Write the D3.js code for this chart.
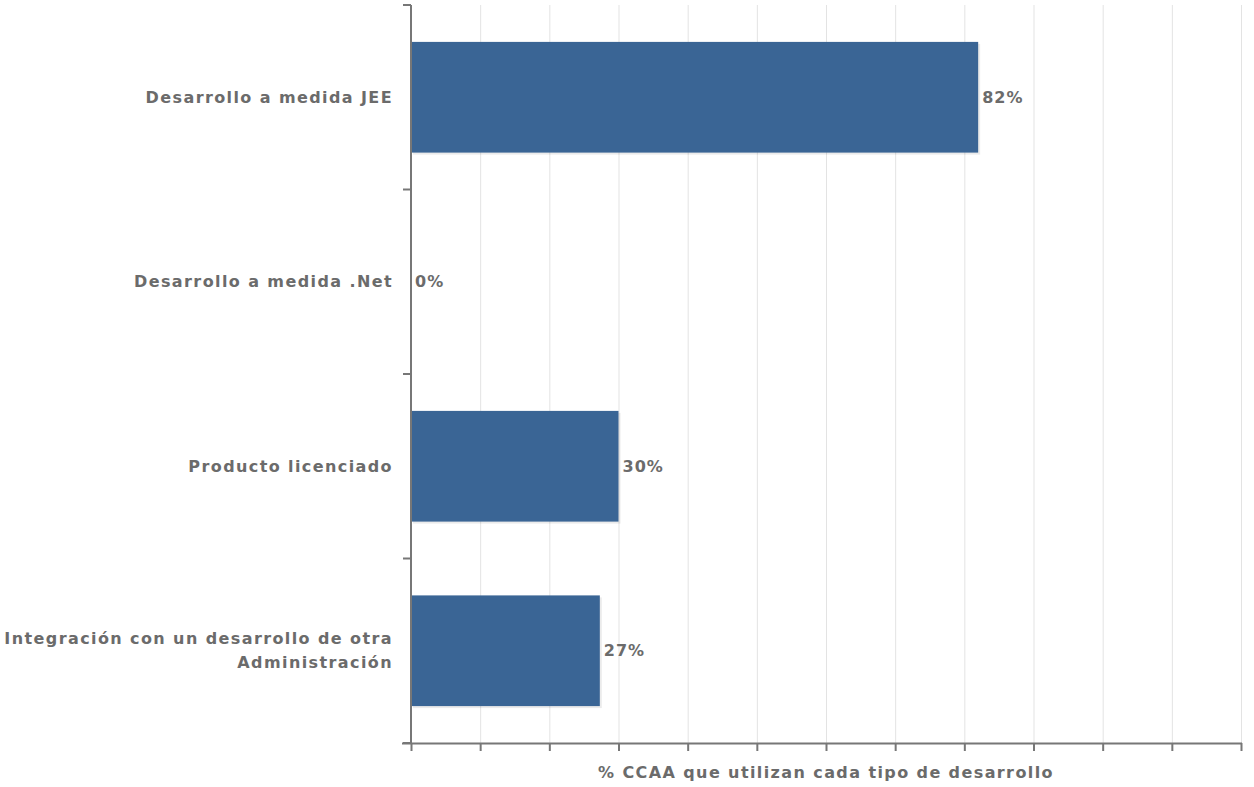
<!DOCTYPE html>
<html><head><meta charset="utf-8">
<script src="https://cdn.jsdelivr.net/npm/d3@7"></script>
<style>body{margin:0;background:#fff}svg{display:block}</style>
</head><body>
<script>
const categories = ["Desarrollo a medida JEE", "Desarrollo a medida .Net", "Producto licenciado", "Integración con un desarrollo de otra|Administración"];
const values = [82, 0, 30, 27.3];
const xTicks = d3.range(0, 121, 10);
const xTitle = "% CCAA que utilizan cada tipo de desarrollo";

const W = 1254, H = 787;
const m = {left: 411, right: 13, top: 5, bottom: 44};
const svg = d3.select("body").append("svg").attr("width", W).attr("height", H);
const font = "'DejaVu Sans', sans-serif";
const fs = 16, ls = 1.4, txt = "#6b6b6b";
const x = d3.scaleLinear().domain([0, 120]).range([m.left, W - m.right]);
const y = d3.scaleBand().domain(categories).range([m.top, H - m.bottom]).paddingInner(0.4).paddingOuter(0.2);
const y0 = m.top, y1 = H - m.bottom;

// grid
svg.append("g").selectAll("line").data(xTicks.slice(1)).join("line")
  .attr("x1", d => x(d) + 0.5).attr("x2", d => x(d) + 0.5)
  .attr("y1", y0).attr("y2", y1).attr("stroke", "#e3e3e3").attr("stroke-width", 1);

// bar shadows
svg.append("g").selectAll("rect").data(categories).join("rect")
  .attr("x", x(0) + 2).attr("y", d => y(d) + 2)
  .attr("width", (d, i) => Math.max(0, x(values[i]) - x(0)))
  .attr("height", y.bandwidth())
  .attr("fill", "#000").attr("opacity", (d, i) => values[i] > 0 ? 0.08 : 0);
// bars
svg.append("g").selectAll("rect").data(categories).join("rect")
  .attr("x", x(0)).attr("y", d => y(d))
  .attr("width", (d, i) => x(values[i]) - x(0))
  .attr("height", y.bandwidth())
  .attr("fill", "#3a6595");

// value labels
svg.append("g").selectAll("text").data(categories).join("text")
  .attr("x", (d, i) => x(values[i]) + 4)
  .attr("y", d => y(d) + y.bandwidth() / 2)
  .attr("dy", "0.35em")
  .attr("font-family", font).attr("font-weight", "bold").attr("font-size", fs)
  .attr("letter-spacing", 1).attr("fill", txt)
  .text((d, i) => d3.format(".0f")(values[i]) + "%");

// x axis
const xAxis = svg.append("g").attr("transform", `translate(0,${y1})`)
  .call(d3.axisBottom(x).tickValues(xTicks).tickSize(8).tickSizeOuter(0).tickFormat(""));
xAxis.select(".domain").attr("stroke", "#777").attr("stroke-width", 2).attr("d", `M${x(0) - 9},0.5H${x(120) + 1}`);
xAxis.selectAll(".tick line").attr("stroke", "#777").attr("stroke-width", 2);

// y axis
const yg = svg.append("g");
yg.append("line").attr("x1", m.left).attr("x2", m.left).attr("y1", y0).attr("y2", y1)
  .attr("stroke", "#777").attr("stroke-width", 2);
const bounds = d3.range(0, categories.length + 1).map(i => y0 + (y1 - y0) * i / categories.length);
yg.selectAll("line.t").data(bounds).join("line").attr("class", "t")
  .attr("x1", m.left - 8).attr("x2", m.left).attr("y1", d => d).attr("y2", d => d)
  .attr("stroke", "#777").attr("stroke-width", 2);

// category labels
const lab = svg.append("g").selectAll("text").data(categories).join("text")
  .attr("text-anchor", "end")
  .attr("font-family", font).attr("font-weight", "bold").attr("font-size", fs)
  .attr("letter-spacing", ls).attr("fill", txt);
lab.each(function(d) {
  const lines = d.split("|");
  const cy = y(d) + y.bandwidth() / 2;
  const lh = 24;
  lines.forEach((t, k) => {
    d3.select(this).append("tspan").attr("x", 393)
      .attr("y", cy + (k - (lines.length - 1) / 2) * lh).attr("dy", "0.35em").text(t);
  });
});

// x title
svg.append("text").attr("x", (x(0) + x(120)) / 2).attr("y", 778)
  .attr("text-anchor", "middle").attr("font-family", font).attr("font-weight", "bold")
  .attr("font-size", fs).attr("letter-spacing", ls).attr("fill", txt).text(xTitle);
</script>
</body></html>
